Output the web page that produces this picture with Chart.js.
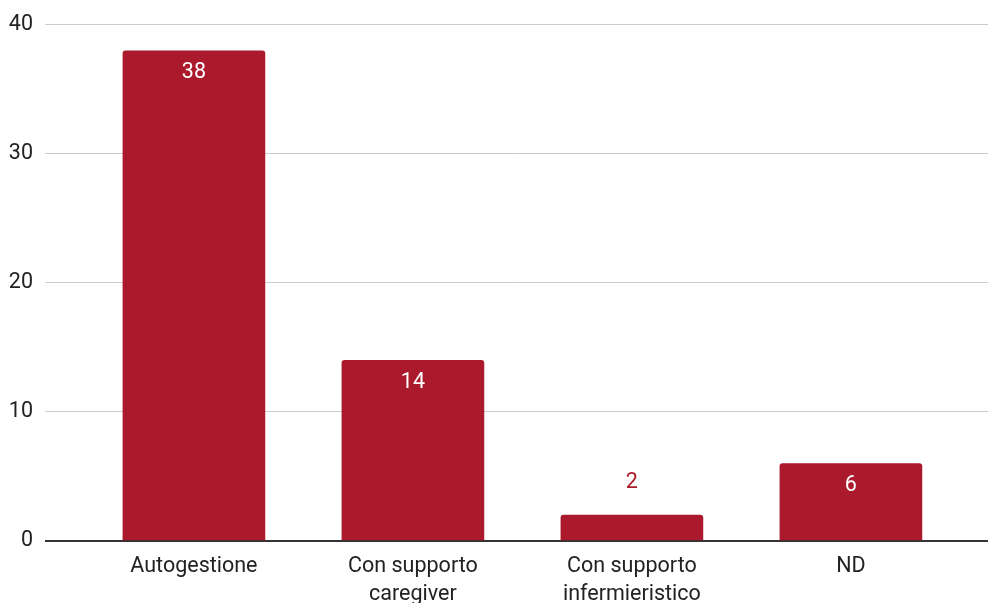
<!DOCTYPE html>
<html lang="it">
<head>
  <meta charset="UTF-8">
  <title>Modalità di gestione</title>
  <script src="https://cdn.jsdelivr.net/npm/chart.js"></script>
  <style>
    html, body { margin: 0; padding: 0; background: #fff; overflow: hidden; }
    .wrap { width: 988px; height: 603px; position: relative; }
  </style>
</head>
<body>
  <div class="wrap">
    <canvas id="gestioneChart" width="988" height="603"></canvas>
  </div>

  <script>
    const categories = [
      ['Autogestione'],
      ['Con supporto', 'caregiver'],
      ['Con supporto', 'infermieristico'],
      ['ND']
    ];
    const values = [38, 14, 2, 6];
    const yTicks = [0, 10, 20, 30, 40];

    const barColor = '#ab192d';
    const font = { family: 'Roboto', size: 21.5 };

    // value labels: inside the bar in white, above it when the bar is too short
    const valueLabels = {
      id: 'valueLabels',
      afterDatasetsDraw(chart) {
        const ctx = chart.ctx;
        const meta = chart.getDatasetMeta(0);
        ctx.save();
        ctx.font = `${font.size}px ${font.family}`;
        ctx.textAlign = 'center';
        ctx.textBaseline = 'middle';
        meta.data.forEach((bar, i) => {
          const h = bar.base - bar.y;
          if (h > 40) {
            ctx.fillStyle = '#ffffff';
            ctx.fillText(String(values[i]), bar.x, bar.y + 22);
          } else {
            ctx.fillStyle = barColor;
            ctx.fillText(String(values[i]), bar.x, bar.y - 33);
          }
        });
        ctx.restore();
      }
    };

    const ctx = document.getElementById('gestioneChart').getContext('2d');
    new Chart(ctx, {
      type: 'bar',
      data: {
        datasets: [{
          data: values.map((v, i) => ({ x: i, y: v })),
          backgroundColor: barColor,
          borderRadius: 3,
          borderSkipped: 'bottom',
          barThickness: 142
        }]
      },
      options: {
        responsive: false,
        animation: false,
        layout: { padding: { top: 24, right: 0, left: 0, bottom: 0 } },
        plugins: {
          legend: { display: false },
          tooltip: { enabled: false }
        },
        scales: {
          x: {
            type: 'linear',
            offset: false,
            min: -0.68,
            max: 3.626,
            afterBuildTicks: scale => {
              scale.ticks = categories.map((c, i) => ({ value: i }));
            },
            afterFit: scale => { scale.height = 62; },
            ticks: {
              autoSkip: false,
              maxRotation: 0,
              padding: 12,
              color: '#222',
              font: { ...font, lineHeight: 1.3 },
              callback: (v) => categories[v] || ''
            },
            grid: { display: false, drawTicks: false },
            border: { display: false }
          },
          y: {
            min: 0,
            max: 40,
            afterBuildTicks: scale => {
              scale.ticks = yTicks.map(v => ({ value: v }));
            },
            afterFit: scale => { scale.width = 45; },
            ticks: {
              padding: 12,
              color: '#222',
              font: font
            },
            grid: {
              drawTicks: false,
              color: ctx => ctx.tick.value === 0 ? '#333333' : '#cccccc',
              lineWidth: ctx => ctx.tick.value === 0 ? 2 : 1
            },
            border: { display: false }
          }
        }
      },
      plugins: [valueLabels]
    });
  </script>
</body>
</html>
